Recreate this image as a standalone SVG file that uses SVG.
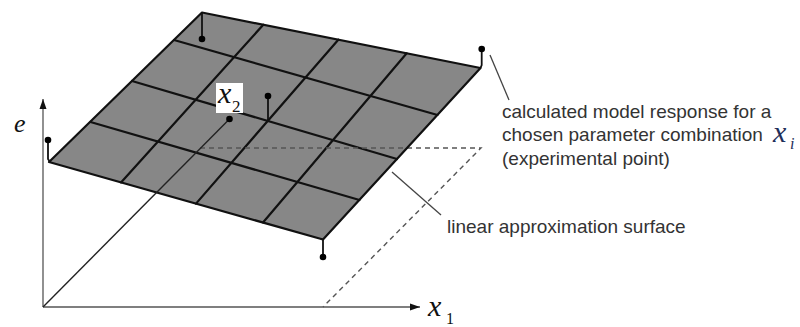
<svg xmlns="http://www.w3.org/2000/svg" width="800" height="327" viewBox="0 0 800 327">
<style>
.grid{stroke:#111;stroke-width:2.2;fill:none;stroke-linecap:round}
.stick{stroke:#111;stroke-width:1.8;fill:none}
.dot{fill:#000}
.axis{stroke:#555;stroke-width:1.3;fill:none}
.dash{stroke:#555;stroke-width:1.4;fill:none;stroke-dasharray:5 4}
.call{stroke:#444;stroke-width:1.3;fill:none}
.txt{font-family:"Liberation Sans",Arial,sans-serif;font-size:19px;fill:#333}
.math{font-family:"Liberation Serif","Times New Roman",serif;font-style:italic;fill:#111}
.sub{font-family:"Liberation Serif","Times New Roman",serif;fill:#111}
</style>
<defs>
<marker id="arr" viewBox="0 0 10 8" refX="10" refY="4" markerWidth="10" markerHeight="8" markerUnits="userSpaceOnUse" orient="auto">
<path d="M0,0.5 L10,4 L0,7.5 Z" fill="#111"/>
</marker>
</defs>
<rect width="800" height="327" fill="#fff"/>
<g id="axes">
<line class="axis" x1="43" y1="307" x2="43" y2="99" marker-end="url(#arr)"/>
<line class="axis" x1="43" y1="307" x2="420" y2="307" marker-end="url(#arr)"/>
<polyline class="dash" points="200,148 481,148 323,307"/>
</g>
<g id="surface">
<polygon points="202,12.5 480.5,68 323,239.5 49,162" fill="#878787" stroke="#111" stroke-width="2.2" stroke-linejoin="round"/>
<line class="grid" x1="174" y1="40" x2="437.5" y2="115"/>
<line class="grid" x1="132" y1="81" x2="397" y2="159"/>
<line class="grid" x1="90.5" y1="122" x2="359.5" y2="200"/>
<line class="grid" x1="263.3" y1="24.7" x2="121" y2="182.4"/>
<line class="grid" x1="338.3" y1="39.7" x2="196" y2="203.6"/>
<line class="grid" x1="406.7" y1="53.3" x2="263" y2="222.5"/>
<line class="dash" x1="200" y1="148" x2="407" y2="148"/>
</g>
<g id="x2-axis">
<line x1="43" y1="307" x2="229.5" y2="119" stroke="#222" stroke-width="1.4"/>
<circle class="dot" cx="229.5" cy="119" r="3.3"/>
</g>
<g id="points">
<g id="p-top"><line class="stick" x1="202" y1="12.5" x2="202" y2="39"/><circle class="dot" cx="202" cy="39" r="3.3"/></g>
<g id="p-left"><polyline class="stick" points="48,140 48,159 50,162"/><circle class="dot" cx="48" cy="140" r="3.3"/></g>
<g id="p-right"><polyline class="stick" points="481.7,49 481.7,65 480.5,68"/><circle class="dot" cx="481.7" cy="49" r="3.3"/></g>
<g id="p-bottom"><line class="stick" x1="323" y1="239.5" x2="323" y2="257"/><circle class="dot" cx="323" cy="257" r="3.3"/></g>
<g id="p-mid"><line class="stick" x1="268" y1="120" x2="268" y2="96"/><circle class="dot" cx="268" cy="96" r="3.3"/></g>
</g>
<g id="connectors">
<line class="call" x1="490" y1="55" x2="509" y2="100"/>
<line class="call" x1="392" y1="172" x2="441" y2="215"/>
</g>
<g id="labels">
<g id="label-x2">
<rect x="216" y="83" width="27" height="30" fill="#fff"/>
<text class="math" x="218" y="103" font-size="30">x</text>
<text class="sub" x="232" y="112" font-size="17">2</text>
</g>
<text class="math" x="14" y="132" font-size="26">e</text>
<g id="label-x1">
<text class="math" x="428" y="316" font-size="30">x</text>
<text class="sub" x="446" y="324" font-size="16">1</text>
</g>
<g id="label-response">
<text class="txt" x="502" y="118">calculated model response for a</text>
<text class="txt" x="502" y="141">chosen parameter combination</text>
<text class="math" x="773" y="142" font-size="30" style="fill:#1f2f5a">x</text>
<text class="math" x="790" y="149" font-size="16" style="fill:#1f2f5a">i</text>
<text class="txt" x="502" y="165">(experimental point)</text>
</g>
<text id="label-surface" class="txt" x="447" y="233">linear approximation surface</text>
</g>
</svg>
